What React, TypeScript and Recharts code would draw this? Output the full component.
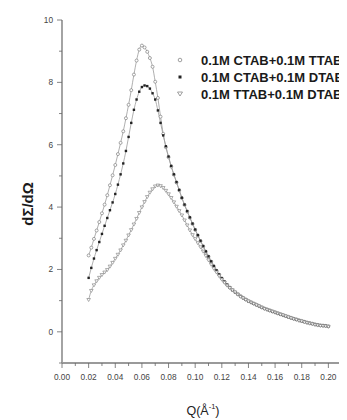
import React from 'react';
import { ComposedChart, Line, XAxis, YAxis, Legend, Label } from 'recharts';

const Q = [
  0.020, 0.022, 0.024, 0.026, 0.028, 0.030, 0.032, 0.034, 0.036, 0.038,
  0.040, 0.042, 0.044, 0.046, 0.048, 0.050, 0.052, 0.054, 0.056, 0.058,
  0.060, 0.062, 0.064, 0.066, 0.068, 0.070, 0.072, 0.074, 0.076, 0.078,
  0.080, 0.082, 0.084, 0.086, 0.088, 0.090, 0.092, 0.094, 0.096, 0.098,
  0.100, 0.102, 0.104, 0.106, 0.108, 0.110, 0.112, 0.114, 0.116, 0.118,
  0.120, 0.122, 0.124, 0.126, 0.128, 0.130, 0.132, 0.134, 0.136, 0.138,
  0.140, 0.142, 0.144, 0.146, 0.148, 0.150, 0.152, 0.154, 0.156, 0.158,
  0.160, 0.162, 0.164, 0.166, 0.168, 0.170, 0.172, 0.174, 0.176, 0.178,
  0.180, 0.182, 0.184, 0.186, 0.188, 0.190, 0.192, 0.194, 0.196, 0.198,
  0.200,
];

const CTAB_TTAB = [
  2.45, 2.70, 2.98, 3.25, 3.52, 3.80, 4.08, 4.38, 4.70, 5.02,
  5.35, 5.70, 6.06, 6.43, 6.85, 7.28, 7.75, 8.25, 8.70, 9.05,
  9.18, 9.12, 8.98, 8.78, 8.50, 8.02, 7.50, 6.90, 6.35, 5.92,
  5.60, 5.30, 5.04, 4.79, 4.54, 4.29, 4.07, 3.86, 3.66, 3.46,
  3.27, 3.09, 2.91, 2.74, 2.57, 2.41, 2.25, 2.10, 1.96, 1.83,
  1.71, 1.60, 1.50, 1.42, 1.34, 1.27, 1.21, 1.15, 1.09, 1.04,
  0.99, 0.95, 0.91, 0.87, 0.83, 0.79, 0.75, 0.72, 0.69, 0.66,
  0.63, 0.60, 0.57, 0.54, 0.51, 0.48, 0.45, 0.42, 0.40, 0.37,
  0.35, 0.32, 0.30, 0.28, 0.26, 0.24, 0.22, 0.21, 0.20, 0.19,
  0.18,
];

const CTAB_DTAB = [
  1.73, 2.05, 2.35, 2.62, 2.88, 3.14, 3.40, 3.65, 3.90, 4.15,
  4.42, 4.72, 5.05, 5.40, 5.80, 6.25, 6.70, 7.12, 7.45, 7.70,
  7.85, 7.90, 7.88, 7.80, 7.65, 7.45, 7.10, 6.70, 6.30, 5.95,
  5.62, 5.32, 5.05, 4.80, 4.55, 4.30, 4.08, 3.87, 3.67, 3.47,
  3.28, 3.10, 2.92, 2.75, 2.58, 2.42, 2.26, 2.11, 1.97, 1.84,
  1.72, 1.61, 1.51, 1.42, 1.34, 1.27, 1.20, 1.14, 1.08, 1.03,
  0.98, 0.94, 0.90, 0.86, 0.82, 0.78, 0.75, 0.71, 0.68, 0.65,
  0.62, 0.59, 0.56, 0.53, 0.50, 0.47, 0.44, 0.42, 0.39, 0.37,
  0.34, 0.32, 0.30, 0.28, 0.26, 0.24, 0.22, 0.21, 0.20, 0.19,
  0.18,
];

const TTAB_DTAB = [
  1.03, 1.32, 1.50, 1.63, 1.74, 1.83, 1.91, 1.99, 2.10, 2.22,
  2.35, 2.48, 2.62, 2.78, 2.93, 3.10, 3.27, 3.45, 3.63, 3.82,
  4.00, 4.17, 4.33, 4.47, 4.58, 4.67, 4.70, 4.68, 4.62, 4.53,
  4.42, 4.30, 4.16, 4.02, 3.88, 3.74, 3.58, 3.42, 3.26, 3.11,
  2.98, 2.85, 2.72, 2.58, 2.44, 2.30, 2.16, 2.03, 1.91, 1.79,
  1.68, 1.58, 1.49, 1.41, 1.34, 1.27, 1.20, 1.13, 1.08, 1.03,
  0.98, 0.94, 0.90, 0.86, 0.82, 0.78, 0.74, 0.71, 0.68, 0.65,
  0.62, 0.59, 0.56, 0.53, 0.50, 0.47, 0.44, 0.41, 0.39, 0.36,
  0.34, 0.31, 0.29, 0.27, 0.25, 0.23, 0.21, 0.20, 0.19, 0.18,
  0.17,
];

const SERIES_NAMES = ['0.1M CTAB+0.1M TTAB', '0.1M CTAB+0.1M DTAB', '0.1M TTAB+0.1M DTAB'];

const X_TICKS = [0, 0.01, 0.02, 0.03, 0.04, 0.05, 0.06, 0.07, 0.08, 0.09, 0.1, 0.11,
  0.12, 0.13, 0.14, 0.15, 0.16, 0.17, 0.18, 0.19, 0.2, 0.21, 0.22];
const Y_TICKS = [-1, 0, 1, 2, 3, 4, 5, 6, 7, 8, 9, 10];

const data = Q.map((q, i) => ({ q, s1: CTAB_TTAB[i], s2: CTAB_DTAB[i], s3: TTAB_DTAB[i] }));

const FONT = 'Liberation Sans, Arial, sans-serif';
const AXIS_COLOR = '#9a9a9a';

const XTick = (props: any) => {
  const { x, y, payload } = props;
  const idx = Math.round(payload.value * 100);
  const major = idx % 2 === 0;
  return (
    <g>
      <line x1={x} y1={y} x2={x} y2={y + (major ? 5 : 3)} stroke="#666" strokeWidth={0.8} />
      {major && (
        <text x={x} y={y + 17} textAnchor="middle" fontSize={8.3} fontFamily={FONT} fill="#444">
          {payload.value.toFixed(2)}
        </text>
      )}
    </g>
  );
};

const YTick = (props: any) => {
  const { x, y, payload } = props;
  const v = payload.value;
  const major = v % 2 === 0;
  return (
    <g>
      <line x1={x} y1={y} x2={x - (major ? 5 : 3)} y2={y} stroke="#666" strokeWidth={0.8} />
      {major && (
        <text x={x - 9} y={y + 3} textAnchor="end" fontSize={8.3} fontFamily={FONT} fill="#444">
          {v}
        </text>
      )}
    </g>
  );
};

const OpenCircle = (props: any) => {
  const { cx, cy } = props;
  if (cx == null || cy == null) return null;
  return <circle cx={cx} cy={cy} r={1.5} fill="#fff" stroke="#808080" strokeWidth={0.7} />;
};

const FilledSquare = (props: any) => {
  const { cx, cy } = props;
  if (cx == null || cy == null) return null;
  return <rect x={cx - 1.2} y={cy - 1.2} width={2.4} height={2.4} fill="#222" />;
};

const DownTriangle = (props: any) => {
  const { cx, cy } = props;
  if (cx == null || cy == null) return null;
  return (
    <path d={`M${cx - 1.8},${cy - 1.2} L${cx + 1.8},${cy - 1.2} L${cx},${cy + 1.8} Z`}
      fill="#fff" stroke="#8a8a8a" strokeWidth={0.7} />
  );
};

const LegendContent = () => (
  <svg width={200} height={60} style={{ overflow: 'visible', display: 'block' }}>
    {SERIES_NAMES.map((name, i) => {
      const cy = 8 + i * 17;
      let sym;
      if (i === 0) sym = <circle cx={4} cy={cy} r={1.8} fill="#fff" stroke="#888" strokeWidth={0.8} />;
      else if (i === 1) sym = <rect x={2.5} y={cy - 1.5} width={3} height={3} fill="#222" />;
      else sym = <path d={`M1.5,${cy - 2} L6.5,${cy - 2} L4,${cy + 2} Z`} fill="#fff" stroke="#888" strokeWidth={0.8} />;
      return (
        <g key={name}>
          {sym}
          <text x={25} y={cy + 4.5} fontSize={13} fontWeight="bold" fontFamily={FONT} fill="#1a1a1a">
            {name}
          </text>
        </g>
      );
    })}
  </svg>
);

export default function App() {
  return (
    <div style={{ width: 339, height: 412, overflow: 'hidden', position: 'relative' }}>
      <ComposedChart width={360} height={412} data={data}
        margin={{ top: 12, right: 13, bottom: 0, left: 0 }}>
        <XAxis xAxisId="top" orientation="top" dataKey="q" type="number" domain={[0, 0.22]}
          height={0} tick={false} tickLine={false} axisLine={{ stroke: '#777', strokeWidth: 1 }} />
        <YAxis yAxisId="right" orientation="right" domain={[-1, 10]} width={0}
          tick={false} tickLine={false} axisLine={{ stroke: '#777', strokeWidth: 1 }} />
        <XAxis dataKey="q" type="number" domain={[0, 0.22]} ticks={X_TICKS} interval={0}
          height={57} tickSize={0} tickMargin={0} tickLine={false}
          axisLine={{ stroke: AXIS_COLOR, strokeWidth: 1.8 }} tick={<XTick />}>
          <Label content={(p: any) => {
            const vb = p.viewBox || { x: 54, y: 355, width: 293 };
            return (
              <text x={195} y={vb.y + 52} textAnchor="middle" fontSize={12.5} fontFamily={FONT} fill="#222">
                Q(Å
                <tspan fontSize={7.5} dy={-6}>-1</tspan>
                <tspan dy={6}>)</tspan>
              </text>
            );
          }} />
        </XAxis>
        <YAxis domain={[-1, 10]} ticks={Y_TICKS} interval={0} width={54}
          tickSize={0} tickMargin={0} tickLine={false}
          axisLine={{ stroke: AXIS_COLOR, strokeWidth: 1.8 }} tick={<YTick />}>
          <Label content={() => (
            <text x={19} y={196} transform="rotate(-90 19 196)" textAnchor="middle"
              dominantBaseline="central" fontSize={15} fontWeight="bold" fontFamily={FONT} fill="#1a1a1a">
              dΣ/dΩ
            </text>
          )} />
        </YAxis>
        <Legend layout="horizontal" verticalAlign="middle" align="center" content={<LegendContent />}
          wrapperStyle={{ position: 'absolute', left: 168, top: 44, width: 200, height: 60 }} />
        <Line dataKey="s1" name={SERIES_NAMES[0]} type="monotone" stroke="#9a9a9a" strokeWidth={0.8}
          dot={<OpenCircle />} activeDot={false} isAnimationActive={false} />
        <Line dataKey="s2" name={SERIES_NAMES[1]} type="monotone" stroke="#9a9a9a" strokeWidth={0.8}
          dot={<FilledSquare />} activeDot={false} isAnimationActive={false} />
        <Line dataKey="s3" name={SERIES_NAMES[2]} type="monotone" stroke="#9a9a9a" strokeWidth={0.8}
          dot={<DownTriangle />} activeDot={false} isAnimationActive={false} />
      </ComposedChart>
    </div>
  );
}
